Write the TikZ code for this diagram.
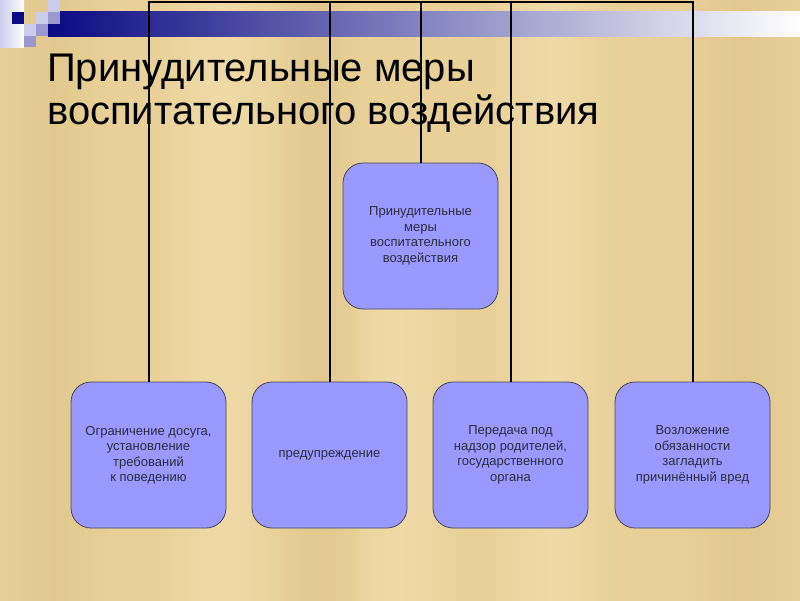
\documentclass[tikz,border=0pt]{standalone}
\usepackage{fontspec}
\setmainfont{Liberation Sans}
\definecolor{paper}{RGB}{232,208,152}
\definecolor{paperlight}{RGB}{244,225,178}
\definecolor{paperdark}{RGB}{222,196,136}
\definecolor{navy}{RGB}{10,10,130}
\definecolor{boxfill}{RGB}{153,153,255}
\definecolor{boxline}{RGB}{70,70,85}
\definecolor{txt}{RGB}{45,45,60}
\definecolor{lav}{RGB}{204,204,236}
\definecolor{lavmid}{RGB}{153,153,208}
\tikzset{
  mbox/.style={draw=boxline, line width=0.8pt, fill=boxfill, rounded corners=20pt,
    minimum width=155pt, minimum height=146pt, inner sep=2pt, align=center,
    text=txt, font=\fontsize{13}{15.5}\selectfont},
  conn/.style={draw=black, line width=2pt},
  titletext/.style={anchor=base west, inner sep=0pt, text=black, font=\fontsize{40}{46}\selectfont},
  litband/.style={left color=paper, right color=paper, middle color=paperlight, opacity=0.6},
  darkband/.style={left color=paper, right color=paper, middle color=paperdark, opacity=0.6}
}
\begin{document}
\begin{tikzpicture}[x=1pt,y=-1pt]
\useasboundingbox (0,0) rectangle (800,600);
\begin{scope}
\clip (0,0) rectangle (800,600);
% parchment background
\fill[paper] (-5,-5) rectangle (805,605);
\shade[litband] (150,-5) rectangle (290,605);
\shade[litband] (480,-5) rectangle (620,605);
\shade[darkband] (-5,-5) rectangle (110,605);
\shade[darkband] (680,-5) rectangle (805,605);
\shade[litband] (330,300) rectangle (470,605);
\shade[darkband] (280,-5) rectangle (360,605);
\end{scope}
% top-left decoration
\shade[left color=lav, right color=white] (0,0) rectangle (24,47);
\fill[navy] (12,12) rectangle (24,24);
\shade[left color=navy, right color=white] (48,11.5) rectangle (800,36);
\fill[lav] (48,0) rectangle (60,12);
\fill[lavmid] (48,12) rectangle (60,24);
\fill[lav] (36,12) rectangle (48,24);
\fill[lav] (24,24) rectangle (36,36);
\fill[lavmid] (36,24) rectangle (48,36);
\fill[lavmid] (24,36) rectangle (36,47);
% title
\node[titletext] (title1) at (47,81) {Принудительные меры};
\node[titletext] (title2) at (47,124) {воспитательного воздействия};
% boxes
\node[mbox] (c) at (420.5,236) {Принудительные\\меры\\воспитательного\\воздействия};
\node[mbox] (b1) at (148.5,455) {Ограничение досуга,\\установление\\требований\\к поведению};
\node[mbox] (b2) at (329.5,455) {предупреждение};
\node[mbox] (b3) at (510.5,455) {Передача под\\надзор родителей,\\государственного\\органа};
\node[mbox] (b4) at (692.5,455) {Возложение\\обязанности\\загладить\\причинённый вред};
% connectors
\coordinate (hL) at (148.5,1.5);
\coordinate (hR) at (692.5,1.5);
\draw[conn] ([xshift=-1pt]hL) -- ([xshift=1pt]hR);
\draw[conn] (c.north) -- (c.north |- hL);
\draw[conn] (b1.north) -- (b1.north |- hL);
\draw[conn] (b2.north) -- (b2.north |- hL);
\draw[conn] (b3.north) -- (b3.north |- hL);
\draw[conn] (b4.north) -- (b4.north |- hL);
\end{tikzpicture}
\end{document}
